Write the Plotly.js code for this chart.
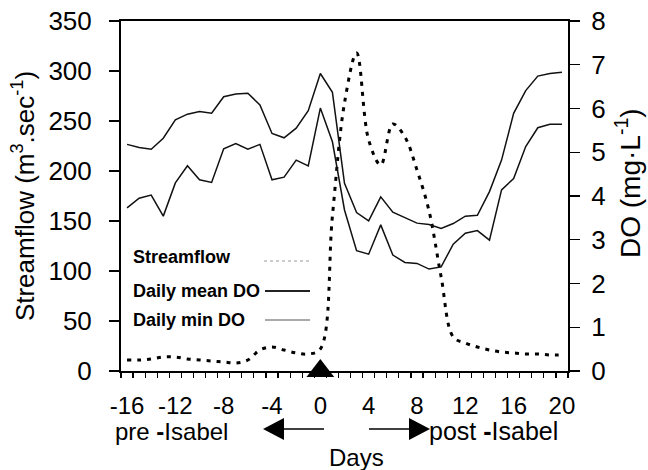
<!DOCTYPE html>
<html>
<head>
<meta charset="utf-8">
<script src="https://cdn.plot.ly/plotly-3.0.1.min.js"></script>
<style>html,body{margin:0;padding:0;background:#fff;}#chart{width:648px;height:470px;}</style>
</head>
<body>
<div id="chart"></div>
<script>
// Days relative to Hurricane Isabel landfall
var days = [-16,-15,-14,-13,-12,-11,-10,-9,-8,-7,-6,-5,-4,-3,-2,-1,0,1,2,3,4,5,6,7,8,9,10,11,12,13,14,15,16,17,18,19,20];
// Streamflow (m3/sec), left axis
var streamflow = [11,11,12,14,14,12,11,10,9,8,11,21,24,21,18,17,22,155,268,318,231,206,247,234,201,160,94,34,28,24,21,19,18,17,17,16,16];
// Daily mean DO (mg/L), right axis
var meanDO = [5.18,5.11,5.07,5.32,5.74,5.87,5.93,5.89,6.27,6.33,6.35,6.08,5.43,5.33,5.55,5.95,6.80,6.37,4.29,3.62,3.43,3.98,3.63,3.51,3.38,3.35,3.26,3.37,3.54,3.56,4.10,4.82,5.89,6.41,6.74,6.80,6.83];
// Daily min DO (mg/L), right axis
var minDO = [3.73,3.95,4.02,3.54,4.30,4.69,4.37,4.31,5.08,5.20,5.07,5.18,4.37,4.43,4.82,4.69,6.01,5.24,3.68,2.75,2.67,3.34,2.65,2.48,2.46,2.33,2.38,2.90,3.15,3.21,2.99,4.14,4.40,5.13,5.56,5.64,5.64];
// Event marker (landfall day)
var eventDay = [0];
var eventY = [0];
// Tick labels
var xTickVals = [-16,-12,-8,-4,0,4,8,12,16,20];
var xTickText = ['-16','-12','-8','-4','0','4','8','12','16','20'];
var legendNames = ['Streamflow','Daily mean DO','Daily min DO'];

var FONT = 'Liberation Sans, Arial, Helvetica, sans-serif';

var traces = [
  {x: days, y: streamflow, type:'scatter', mode:'lines', yaxis:'y',
   line:{color:'#000', width:3, dash:'4px,6px', shape:'spline', smoothing:1}, name:legendNames[0], hoverinfo:'skip'},
  {x: days, y: meanDO, type:'scatter', mode:'lines', yaxis:'y2',
   line:{color:'#111', width:1.5}, name:legendNames[1], hoverinfo:'skip'},
  {x: days, y: minDO, type:'scatter', mode:'lines', yaxis:'y2',
   line:{color:'#111', width:1.5}, name:legendNames[2], hoverinfo:'skip'},
  {x: eventDay, y: eventY, type:'scatter', mode:'markers', yaxis:'y', cliponaxis:false,
   marker:{symbol:'triangle-up', size:24, color:'#000'}, showlegend:false, hoverinfo:'skip'}
];

function py(p){ return (371 - p) / 350; }   // pixel y -> paper y
function px(p){ return (p - 121) / 447; }   // pixel x -> paper x

var layout = {
  width:648, height:470,
  margin:{l:121, r:80, t:21, b:99, pad:0},
  paper_bgcolor:'#fff', plot_bgcolor:'#fff',
  showlegend:false,
  font:{family:FONT, color:'#000', size:22},
  xaxis:{
    range:[-16.5, 20.5], showgrid:false, zeroline:false,
    showline:true, linecolor:'#000', linewidth:2, mirror:true,
    tickmode:'array', tickvals:xTickVals, ticktext:xTickText,
    ticks:'', ticklabelstandoff:12,
    tickfont:{family:FONT, size:24, color:'#000'},
    minor:{tickmode:'linear', tick0:0.5, dtick:1, ticks:'outside', ticklen:5, tickwidth:1.2, tickcolor:'#000', showgrid:false}
  },
  yaxis:{
    range:[0,350], dtick:50, showgrid:false, zeroline:false,
    showline:true, linecolor:'#000', linewidth:2,
    ticks:'outside', ticklen:10, tickwidth:1.2, tickcolor:'#000',
    ticklabelstandoff:12,
    tickfont:{family:FONT, size:26, color:'#000'},
    title:{text:'Streamflow (m<sup>3</sup>.sec<sup>-1</sup>)', font:{family:FONT, size:26}, standoff:6}
  },
  yaxis2:{
    range:[0,8], dtick:1, overlaying:'y', side:'right', showgrid:false, zeroline:false,
    showline:true, linecolor:'#000', linewidth:2,
    ticks:'outside', ticklen:10, tickwidth:1.2, tickcolor:'#000',
    ticklabelstandoff:6,
    tickfont:{family:FONT, size:26, color:'#000'}
  },
  shapes:[
    // legend samples
    {type:'line', xref:'paper', yref:'paper', x0:px(264), x1:px(310), y0:py(261), y1:py(261), line:{color:'#999', width:1, dash:'dot'}},
    {type:'line', xref:'paper', yref:'paper', x0:px(265), x1:px(310), y0:py(291), y1:py(291), line:{color:'#222', width:1.8}},
    {type:'line', xref:'paper', yref:'paper', x0:px(265), x1:px(310), y0:py(320), y1:py(320), line:{color:'#aaa', width:1.8}},
    // left arrow (pre)
    {type:'line', xref:'paper', yref:'paper', x0:px(282), x1:px(324), y0:py(429), y1:py(429), line:{color:'#000', width:1.5}},
    {type:'path', xref:'paper', yref:'paper', fillcolor:'#000', line:{width:0},
     path:'M '+px(263)+' '+py(429)+' L '+px(284)+' '+py(418)+' L '+px(284)+' '+py(440)+' Z'},
    // right arrow (post)
    {type:'line', xref:'paper', yref:'paper', x0:px(369), x1:px(411), y0:py(429), y1:py(429), line:{color:'#000', width:1.5}},
    {type:'path', xref:'paper', yref:'paper', fillcolor:'#000', line:{width:0},
     path:'M '+px(430)+' '+py(429)+' L '+px(409)+' '+py(418)+' L '+px(409)+' '+py(440)+' Z'}
  ],
  annotations:[
    {text:'<b>'+legendNames[0]+'</b>', xref:'paper', yref:'paper', x:px(131), y:py(257), xanchor:'left', yanchor:'middle', showarrow:false, font:{family:FONT, size:18}},
    {text:'<b>'+legendNames[1]+'</b>', xref:'paper', yref:'paper', x:px(131), y:py(291), xanchor:'left', yanchor:'middle', showarrow:false, font:{family:FONT, size:18}},
    {text:'<b>'+legendNames[2]+'</b>', xref:'paper', yref:'paper', x:px(131), y:py(320), xanchor:'left', yanchor:'middle', showarrow:false, font:{family:FONT, size:18}},
    {text:'pre <b>-</b>Isabel', xref:'paper', yref:'paper', x:px(171), y:py(431), xanchor:'center', yanchor:'middle', showarrow:false, font:{family:FONT, size:24}},
    {text:'post <b>-</b>Isabel', xref:'paper', yref:'paper', x:px(493), y:py(431), xanchor:'center', yanchor:'middle', showarrow:false, font:{family:FONT, size:25}},
    {text:'Days', xref:'paper', yref:'paper', x:px(356), y:py(457), xanchor:'center', yanchor:'middle', showarrow:false, font:{family:FONT, size:24}},
    {text:'DO (mg·L<sup>-1</sup>)', xref:'paper', yref:'paper', x:px(628), y:py(183), xanchor:'center', yanchor:'middle', textangle:-90, showarrow:false, font:{family:FONT, size:28}}
  ]
};

Plotly.newPlot('chart', traces, layout, {displayModeBar:false, staticPlot:true});
</script>
</body>
</html>
